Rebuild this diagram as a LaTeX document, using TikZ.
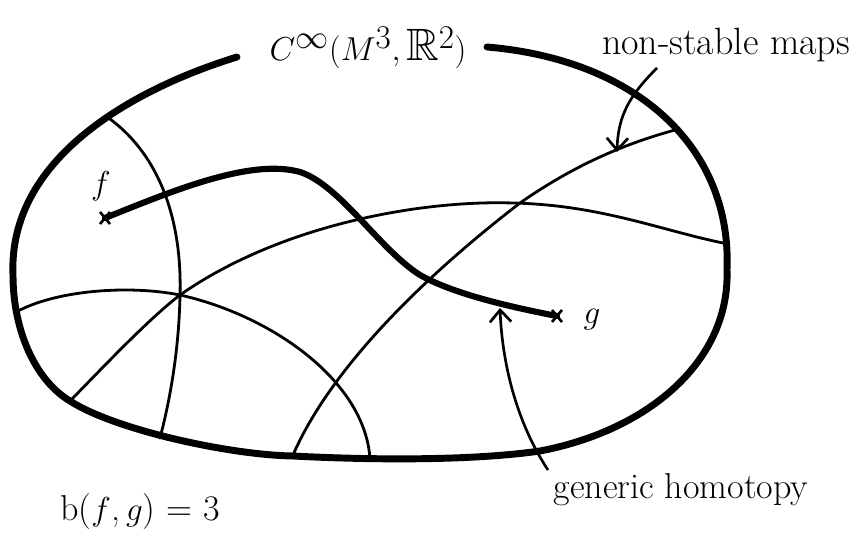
\documentclass[tikz,border=0pt]{standalone}
\usepackage{amssymb}
\usetikzlibrary{arrows.meta,calc}
\begin{document}
\begin{tikzpicture}[x=0.75pt,y=-0.75pt,
  outer/.style={line width=5.2pt,line cap=round,line join=round},
  thinline/.style={line width=2.1pt,line cap=round},
  homot/.style={line width=4.6pt,line cap=round},
  pointer/.style={line width=2pt,-{Straight Barb[length=9pt,width=16pt,line width=2pt]}},
  lbl/.style={inner sep=0pt}]
\useasboundingbox (0,0) rectangle (860,538);
% outer boundary
\draw[outer] (237,57) .. controls (130,90) and (8,160) .. (13,275)
  .. controls (13,330) and (35,380) .. (70,401)
  .. controls (115,430) and (230,455) .. (293,456)
  .. controls (370,460) and (470,461) .. (540,451)
  .. controls (650,430) and (730,360) .. (727,270)
  .. controls (732,150) and (640,60) .. (487,47);
% thin curves
\draw[thinline] (110,119) .. controls (165,160) and (182,230) .. (180,295)
  .. controls (179,350) and (170,400) .. (160,438);
\draw[thinline] (20,310) .. controls (60,290) and (130,285) .. (180,295)
  .. controls (270,315) and (365,380) .. (370,459);
\draw[thinline] (70,401) .. controls (110,360) and (150,318) .. (180,295)
  .. controls (280,225) and (420,200) .. (513,203)
  .. controls (600,205) and (660,230) .. (723,243);
\draw[thinline] (293,455) .. controls (330,370) and (420,280) .. (520,203)
  .. controls (570,168) and (620,145) .. (675,130);
% homotopy path
\coordinate (f) at (105,218);
\coordinate (g) at (557,316);
\draw[homot] (f) .. controls (170,192) and (250,158) .. (300,172)
  .. controls (340,185) and (380,250) .. (420,275)
  .. controls (450,292) and (500,305) .. (g);
% markers
\draw[line width=2pt] ($(f)+(-5,-6)$) -- ($(f)+(5,6)$) ($(f)+(-5,6)$) -- ($(f)+(5,-6)$);
\draw[line width=2pt] ($(g)+(-5,-6)$) -- ($(g)+(5,6)$) ($(g)+(-5,6)$) -- ($(g)+(5,-6)$);
% labels
\node[lbl] (flab) at (101,186) {\fontsize{24}{28}\selectfont $f$};
\node[lbl] (glab) at (592,320) {\fontsize{24}{28}\selectfont $g$};
\node[lbl] (title) at (368,48) {\fontsize{34}{40}\selectfont $C^{\infty}(M^3,\mathbb{R}^2)$};
\node[lbl] (nsm) at (726,45) {\fontsize{28.5}{32}\selectfont non-stable maps};
\node[lbl] (gh) at (681,490) {\fontsize{27}{32}\selectfont generic homotopy};
\node[lbl] (bfg) at (140,512) {\fontsize{27}{32}\selectfont b($f$,\,$g$) = 3};
% pointer arrows
\coordinate (nsmtip) at (617,152);
\coordinate (ghtip) at (500,308);
\draw[pointer] (657,68) .. controls (630,95) and (618,115) .. (nsmtip);
\draw[pointer] (548,470) .. controls (515,420) and (502,360) .. (ghtip);
\end{tikzpicture}
\end{document}
